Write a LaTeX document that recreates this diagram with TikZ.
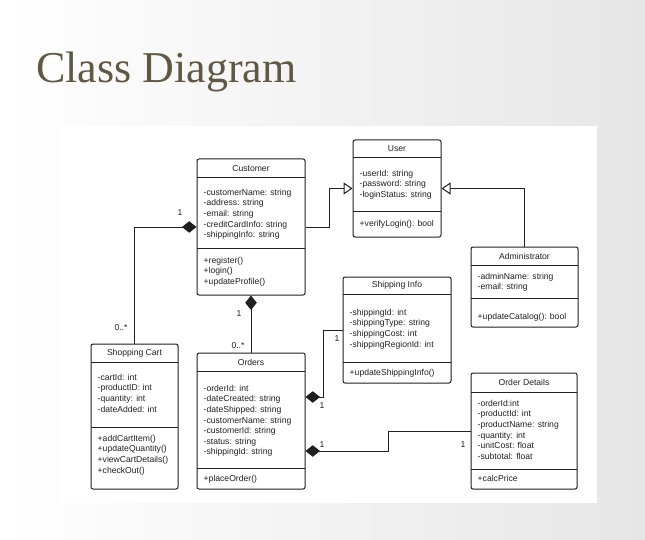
\documentclass[tikz,border=0pt]{standalone}
\usepackage{fontspec}
\setmainfont{Liberation Sans}
\newfontfamily\titlefont{Liberation Serif}
\usetikzlibrary{arrows.meta,fit}
\definecolor{ink}{RGB}{32,32,32}
\definecolor{titlecol}{RGB}{94,88,68}
\definecolor{slidegray}{RGB}{230,230,230}
\tikzset{
  clsbox/.style={draw=ink, line width=1pt, rounded corners=2pt, inner sep=0pt, fill=white},
  sepline/.style={draw=ink, line width=1pt},
  clstitle/.style={font=\fontsize{8.6}{10.6}\selectfont, text=ink, inner sep=0pt},
  clslines/.style={font=\fontsize{8.6}{10.6}\selectfont, text=ink, inner sep=0pt, anchor=north west, align=left},
  mult/.style={font=\fontsize{8.6}{10}\selectfont, text=ink, inner sep=0pt},
  conn/.style={draw=ink, line width=1pt},
  comp/.style={conn, {Diamond[length=14.5pt,width=11.5pt]}-},
  gen/.style={conn, -{Triangle[open,length=9pt,width=12pt,fill=white]}},
}
\newcommand\clsframe[8]{%
  \node[clsbox, fit={(#2,#3)(#4,#5)}] (#1) {};
  \draw[sepline] (#2,#6) -- (#4,#6);
  \draw[sepline] (#2,#7) -- (#4,#7);
  \node[clstitle] (#1-title) at ({(#2+#4)/2},{(#3+#6)/2}) {#8};
}
\newcommand\clslines[4]{\node[clslines] (#1) at (#2,#3) {#4};}
\begin{document}
\begin{tikzpicture}[x=1pt,y=-1pt]
\useasboundingbox (0,0) rectangle (645,540);
\fill[white] (0,0) rectangle (645,540);
\shade[left color=white, middle color=white, right color=slidegray] (0,0) rectangle (645,540);
\fill[white] (60,126) rectangle (597,503);
\node[anchor=base west, inner sep=0pt, text=titlecol, font=\titlefont\fontsize{44}{50}\selectfont] (title) at (36,83) {Class Diagram};

% Customer
\clsframe{customer}{197}{159}{305}{295}{178}{248}{Customer}
\clslines{customer-attrs}{203.5}{188.8}{-customerName: string\\-address: string\\-email: string\\-creditCardInfo: string\\-shippingInfo: string}
\clslines{customer-ops}{203.5}{256.8}{+register()\\+login()\\+updateProfile()}

% User
\clsframe{user}{353}{140}{441}{237}{158}{212}{User}
\clslines{user-attrs}{359.5}{169.8}{-userId: string\\-password: string\\-loginStatus: string}
\clslines{user-ops}{359.5}{219.8}{+verifyLogin(): bool}

% Administrator
\clsframe{admin}{471}{247}{578}{327}{265}{298}{Administrator}
\clslines{admin-attrs}{477.5}{272.8}{-adminName: string\\-email: string}
\clslines{admin-ops}{477.5}{312.8}{+updateCatalog(): bool}

% Shipping Info
\clsframe{ship}{343}{277}{451}{383}{294}{362}{Shipping Info}
\clslines{ship-attrs}{349.5}{308.8}{-shippingId: int\\-shippingType: string\\-shippingCost: int\\-shippingRegionId: int}
\clslines{ship-ops}{349.5}{368.8}{+updateShippingInfo()}

% Shopping Cart
\clsframe{cart}{91}{344}{178}{489}{362}{427}{Shopping Cart}
\clslines{cart-attrs}{97.5}{373.8}{-cartId: int\\-productID: int\\-quantity: int\\-dateAdded: int}
\clslines{cart-ops}{97.5}{434.8}{+addCartItem()\\+updateQuantity()\\+viewCartDetails()\\+checkOut()}

% Orders
\clsframe{orders}{197}{353}{305}{489}{371}{468}{Orders}
\clslines{orders-attrs}{203.5}{384.8}{-orderId: int\\-dateCreated: string\\-dateShipped: string\\-customerName: string\\-customerId: string\\-status: string\\-shippingId: string}
\clslines{orders-ops}{203.5}{474.8}{+placeOrder()}

% Order Details
\clsframe{details}{471}{373}{577}{489}{392}{469}{Order Details}
\clslines{details-attrs}{477.5}{399.8}{-orderId:int\\-productId: int\\-productName: string\\-quantity: int\\-unitCost: float\\-subtotal: float}
\clslines{details-ops}{477.5}{474.8}{+calcPrice}

% connectors
\draw[comp] (customer.west) -| (cart.north);
\draw[comp] (customer.south) -- (orders.north);
\draw[gen] (customer.east) -- ++(24,0) |- (user.west);
\draw[gen] (admin.north) |- (user.east);
\draw[comp] ([yshift=24pt]orders.east) -- ++(18,0) |- (ship.west);
\draw[comp] ([yshift=-30pt]orders.east) -- ++(83,0) |- (details.west);

% multiplicities
\node[mult] (m1) at (180,213) {1};
\node[mult] (m2) at (121,328) {0..*};
\node[mult] (m3) at (239,314) {1};
\node[mult] (m4) at (238,346) {0..*};
\node[mult] (m5) at (337,339) {1};
\node[mult] (m6) at (322,406) {1};
\node[mult] (m7) at (322,445) {1};
\node[mult] (m8) at (463,445) {1};
\end{tikzpicture}
\end{document}
